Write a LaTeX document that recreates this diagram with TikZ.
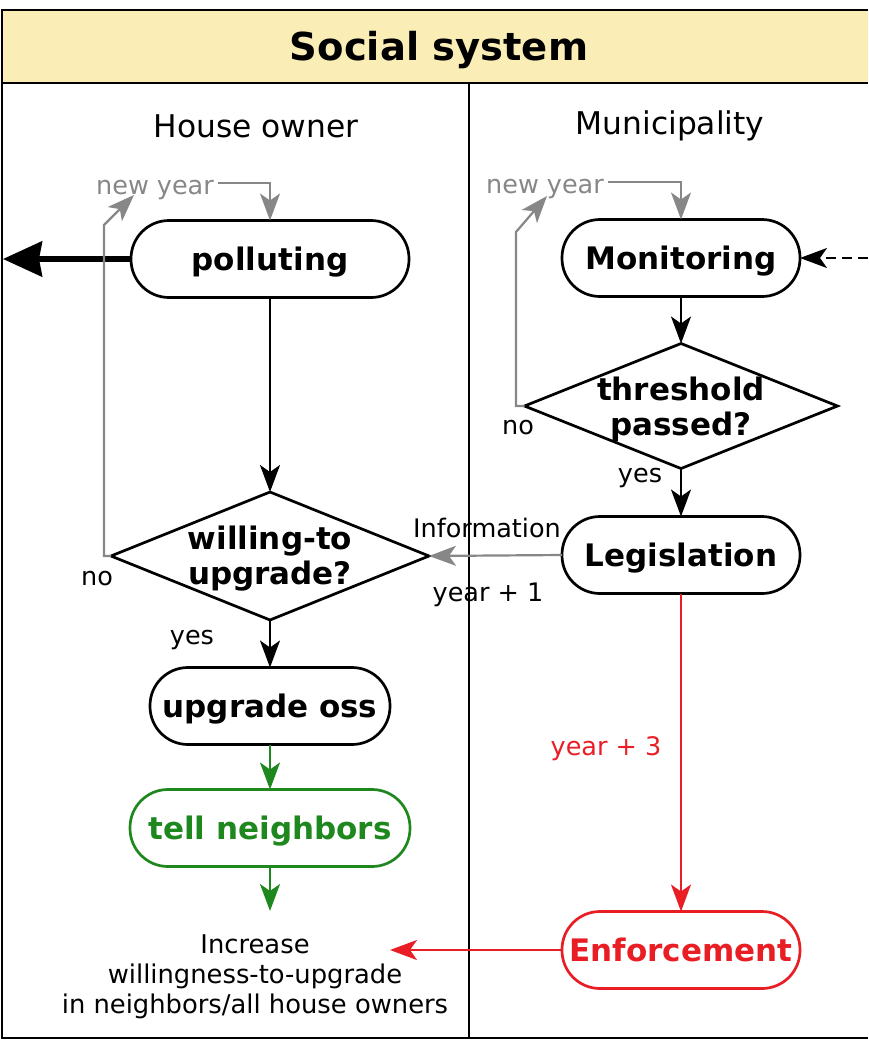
\documentclass[tikz,border=0pt]{standalone}
\usepackage{fontspec}
\setmainfont{DejaVu Sans}
\usetikzlibrary{arrows.meta,shapes.geometric}

\definecolor{titlefill}{RGB}{250,238,182}
\definecolor{loopgray}{RGB}{135,135,135}
\definecolor{actgreen}{RGB}{30,135,30}
\definecolor{actred}{RGB}{232,30,36}

\begin{document}
\begin{tikzpicture}[x=1pt,y=-1pt,
  every node/.style={inner sep=0pt, outer sep=0pt},
  frame/.style={line width=2.6pt, draw=black},
  state/.style={draw, line width=2.7pt, rounded corners=38pt, minimum height=77pt,
    text height=29pt, text depth=6.5pt,
    font=\fontsize{31}{36}\selectfont\bfseries},
  decision/.style={draw, diamond, line width=2.7pt},
  dtext/.style={align=center, font=\fontsize{31}{35}\selectfont\bfseries},
  lane/.style={font=\fontsize{31.3}{34}\selectfont},
  small/.style={font=\fontsize{25.5}{30}\selectfont},
  tip/.style={-{Stealth[length=27pt,width=20pt,inset=7pt]}},
  flow/.style={tip, line width=2.2pt, draw=black},
  loop/.style={tip, line width=2.2pt, draw=loopgray, color=loopgray},
  greenflow/.style={tip, line width=2.2pt, draw=actgreen, color=actgreen},
  redflow/.style={tip, line width=2.2pt, draw=actred, color=actred},
]
\useasboundingbox (0,0) rectangle (868,1041);

% frame with title band and two lanes
\fill[titlefill] (2,10) rectangle (868,83);
\draw[frame] (868,10) -- (2,10) -- (2,1038) -- (868,1038);
\draw[frame] (2,83) -- (868,83);
\draw[frame] (469,83) -- (469,1038);
\node[font=\fontsize{38.5}{40}\selectfont\bfseries] (title) at (439,50) {Social system};
\node[lane] (lhead) at (256,126) {House owner};
\node[lane] (rhead) at (670,126) {Municipality};

% house owner lane
\node[state, minimum width=278pt] (poll) at (270,259) {polluting};
\node[decision, minimum width=318pt, minimum height=128pt] (will) at (270,556) {};
\node[dtext] (willtxt) at (270,559) {willing-to\\upgrade?};
\node[state, minimum width=240pt] (upg) at (270,706) {upgrade oss};
\node[state, minimum width=280pt, draw=actgreen, text=actgreen] (tell) at (270,828) {tell neighbors};
\node[small, align=center, font=\fontsize{25.8}{30}\selectfont] (incr) at (255,977)
  {Increase\\willingness-to-upgrade\\in neighbors/all house owners};

\node[small, text=loopgray] (ny1) at (155,190) {new year};
\node[small] (no1) at (97,579) {no};
\node[small] (yes1) at (192,640) {yes};
\coordinate (out) at (3,259);
\coordinate (l1a) at (104,556);
\coordinate (l1b) at (104,225);
\coordinate (l1c) at (134,195);

\draw[line width=5.5pt, -{Stealth[length=39pt,width=35pt,inset=3pt]}] (poll.west) -- (out);
\draw[flow] (poll.south) -- (will.north);
\draw[loop] (will.west) -- (l1a) -- (l1b) -- (l1c);
\draw[loop] ([xshift=4pt,yshift=7pt]ny1.east) -| (poll.north);
\draw[flow] (will.south) -- (upg.north);
\draw[greenflow] (upg.south) -- (tell.north);
\draw[greenflow] (tell.south) -- (270,911) coordinate (tellend);

% municipality lane
\node[state, minimum width=238pt] (mon) at (681,258) {Monitoring};
\node[decision, minimum width=313pt, minimum height=125pt] (thr) at (681,406) {};
\node[dtext] (thrtxt) at (681,409) {threshold\\passed?};
\node[state, minimum width=238pt] (leg) at (681,555) {Legislation};
\node[state, minimum width=238pt, draw=actred, text=actred] (enf) at (681,950) {Enforcement};

\node[small, text=loopgray] (ny2) at (545,189) {new year};
\node[small] (no2) at (518,428) {no};
\node[small] (yes2) at (640,478) {yes};
\node[small] (info) at (487,528) {Information};
\node[small] (yr1) at (488,595) {year + 1};
\node[small, text=actred] (yr3) at (606,749) {year + 3};
\coordinate (ext) at (868,258);
\coordinate (l2a) at (516,406);
\coordinate (l2b) at (516,232);
\coordinate (l2c) at (547,196);
\coordinate (incrin) at (390,950);

\draw[flow, dashed, dash pattern=on 10pt off 6pt] (ext) -- (mon.east);
\draw[flow] (mon.south) -- (thr.north);
\draw[loop] (thr.west) -- (l2a) -- (l2b) -- (l2c);
\draw[loop] ([xshift=4pt,yshift=7pt]ny2.east) -| (mon.north);
\draw[flow] (thr.south) -- (leg.north);
\draw[loop] (leg.west) -- (will.east);
\draw[redflow] (leg.south) -- (enf.north);
\draw[redflow] (enf.west) -- (incrin);
\end{tikzpicture}
\end{document}
